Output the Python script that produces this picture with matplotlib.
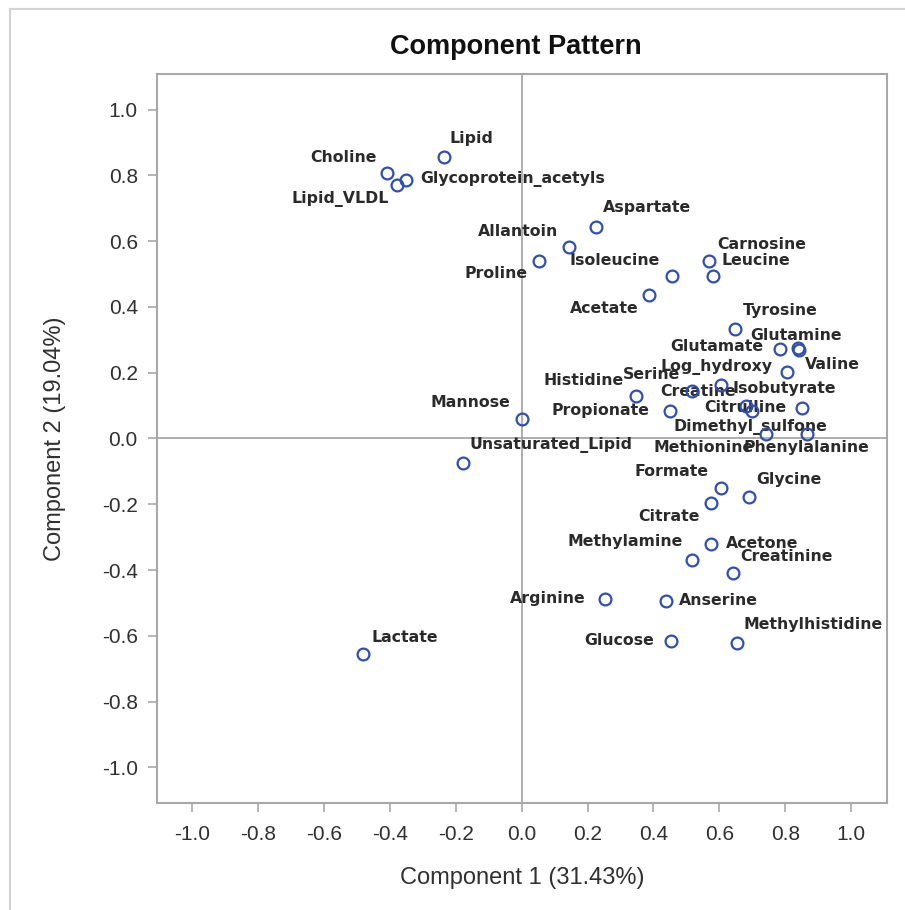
import numpy as np
import matplotlib
matplotlib.use("Agg")
import matplotlib.pyplot as plt
from matplotlib.lines import Line2D

# Component loadings of each variable
NAMES = [
    "Lipid", "Choline", "Glycoprotein_acetyls", "Lipid_VLDL", "Aspartate",
    "Allantoin", "Proline", "Carnosine", "Leucine", "Isoleucine",
    "Acetate", "Tyrosine", "Glutamate", "Glutamine", "Valine",
    "Log_hydroxy", "Creatine", "Serine", "Histidine", "Propionate",
    "Citrulline", "Dimethyl_sulfone", "Isobutyrate", "Methionine", "Phenylalanine",
    "Mannose", "Unsaturated_Lipid", "Formate", "Glycine", "Citrate",
    "Methylamine", "Acetone", "Creatinine", "Arginine", "Anserine",
    "Glucose", "Methylhistidine", "Lactate",
]
COMP1 = [
    -0.237, -0.409, -0.350, -0.380, 0.225,
    0.144, 0.053, 0.568, 0.581, 0.455,
    0.385, 0.649, 0.785, 0.839, 0.841,
    0.805, 0.604, 0.518, 0.346, 0.449,
    0.682, 0.700, 0.851, 0.743, 0.866,
    0.001, -0.178, 0.604, 0.690, 0.576,
    0.518, 0.576, 0.641, 0.254, 0.437,
    0.454, 0.655, -0.482,
]
COMP2 = [
    0.856, 0.808, 0.787, 0.770, 0.644,
    0.581, 0.540, 0.541, 0.493, 0.495,
    0.437, 0.334, 0.273, 0.274, 0.269,
    0.202, 0.164, 0.144, 0.129, 0.083,
    0.098, 0.085, 0.093, 0.015, 0.015,
    0.058, -0.074, -0.150, -0.178, -0.195,
    -0.368, -0.322, -0.408, -0.489, -0.495,
    -0.616, -0.621, -0.654,
]
TICKS = [-1.0, -0.8, -0.6, -0.4, -0.2, 0.0, 0.2, 0.4, 0.6, 0.8, 1.0]
VAR1, VAR2 = 31.43, 19.04

# label placement around each marker: (dx px, dy px, horizontal alignment)
LABEL_POS = {
    "Lipid": (6, 18, "left"), "Choline": (-10, 15, "right"),
    "Glycoprotein_acetyls": (14, 1, "left"), "Lipid_VLDL": (-8, -14, "right"),
    "Aspartate": (7, 19, "left"), "Allantoin": (-11, 16, "right"),
    "Proline": (-12, -13, "right"), "Carnosine": (8, 16, "left"),
    "Leucine": (8, 16, "left"), "Isoleucine": (-12, 15, "right"),
    "Acetate": (-10, -14, "right"), "Tyrosine": (7, 18, "left"),
    "Glutamate": (-17, 2, "right"), "Glutamine": (-2, 13, "center"),
    "Valine": (6, -14, "left"), "Log_hydroxy": (-14, 5, "right"),
    "Creatine": (-23, -7, "center"), "Serine": (-12, 17, "right"),
    "Histidine": (-12, 16, "right"), "Propionate": (-20, 1, "right"),
    "Citrulline": (-1, -1, "center"), "Dimethyl_sulfone": (-2, -16, "center"),
    "Isobutyrate": (-18, 19, "center"), "Methionine": (-13, -14, "right"),
    "Phenylalanine": (-1, -14, "center"), "Mannose": (-12, 17, "right"),
    "Unsaturated_Lipid": (6, 18, "left"), "Formate": (-12, 16, "right"),
    "Glycine": (7, 18, "left"), "Citrate": (-12, -14, "right"),
    "Methylamine": (-10, 18, "right"), "Acetone": (14, 1, "left"),
    "Creatinine": (7, 16, "left"), "Arginine": (-20, 1, "right"),
    "Anserine": (13, 1, "left"), "Glucose": (-17, 1, "right"),
    "Methylhistidine": (6, 18, "left"), "Lactate": (8, 16, "left"),
}

W, H = 905, 910
fig = plt.figure(figsize=(W / 100, H / 100), dpi=100)
fig.patch.set_facecolor("white")

# thin light border along the top and left of the graph area
fig.add_artist(Line2D([10 / W, 10 / W], [0, 1 - 9 / H], color="#d4d4d4", lw=1.5))
fig.add_artist(Line2D([10 / W, 1], [1 - 9 / H, 1 - 9 / H], color="#d4d4d4", lw=1.5))

ax = fig.add_axes([156.5 / W, 1 - 803 / H, (887 - 156.5) / W, (803 - 74) / H])
ax.set_xlim(-1.109, 1.109)
ax.set_ylim(-1.108, 1.108)

frame_col = "#a8a8a8"
for sp in ax.spines.values():
    sp.set_color(frame_col)
    sp.set_linewidth(1.5)

ax.axvline(0, color="#a0a0a0", lw=1.2, zorder=1)
ax.axhline(0, color="#a0a0a0", lw=1.2, zorder=1)

ax.plot(COMP1, COMP2, linestyle="none", marker="o", markersize=8.5,
        markerfacecolor="none", markeredgecolor="#2f4faf", markeredgewidth=1.6,
        zorder=3)

for name, x, y in zip(NAMES, COMP1, COMP2):
    dx, dy, ha = LABEL_POS[name]
    ax.annotate(name, (x, y), xytext=(dx, dy), textcoords="offset pixels",
                ha=ha, va="center", fontsize=11.3, fontweight="bold",
                family="DejaVu Sans", color="#2a2a2a", zorder=2)

ax.set_xticks(TICKS)
ax.set_yticks(TICKS)
ax.set_xticklabels([f"{t:.1f}" for t in TICKS])
ax.set_yticklabels([f"{t:.1f}" for t in TICKS])
ax.tick_params(axis="both", length=6.5, width=1.2, color=frame_col,
               labelcolor="#303030", labelsize=15)
ax.tick_params(axis="x", pad=9)
ax.tick_params(axis="y", pad=7)
for lab in ax.get_xticklabels() + ax.get_yticklabels():
    lab.set_family("Liberation Sans")

fig.text(516 / W, 1 - 47 / H, "Component Pattern", ha="center", va="center",
         fontsize=19.5, fontweight="bold", family="Liberation Sans", color="#111111")
fig.text(522 / W, 1 - 878 / H, f"Component 1 ({VAR1:.2f}%)", ha="center",
         va="center", fontsize=17, family="Liberation Sans", color="#303030")
fig.text(55 / W, 1 - 439 / H, f"Component 2 ({VAR2:.2f}%)", ha="center",
         va="center", rotation=90, fontsize=17, family="Liberation Sans",
         color="#303030")

fig.savefig("out.png", dpi=100)
